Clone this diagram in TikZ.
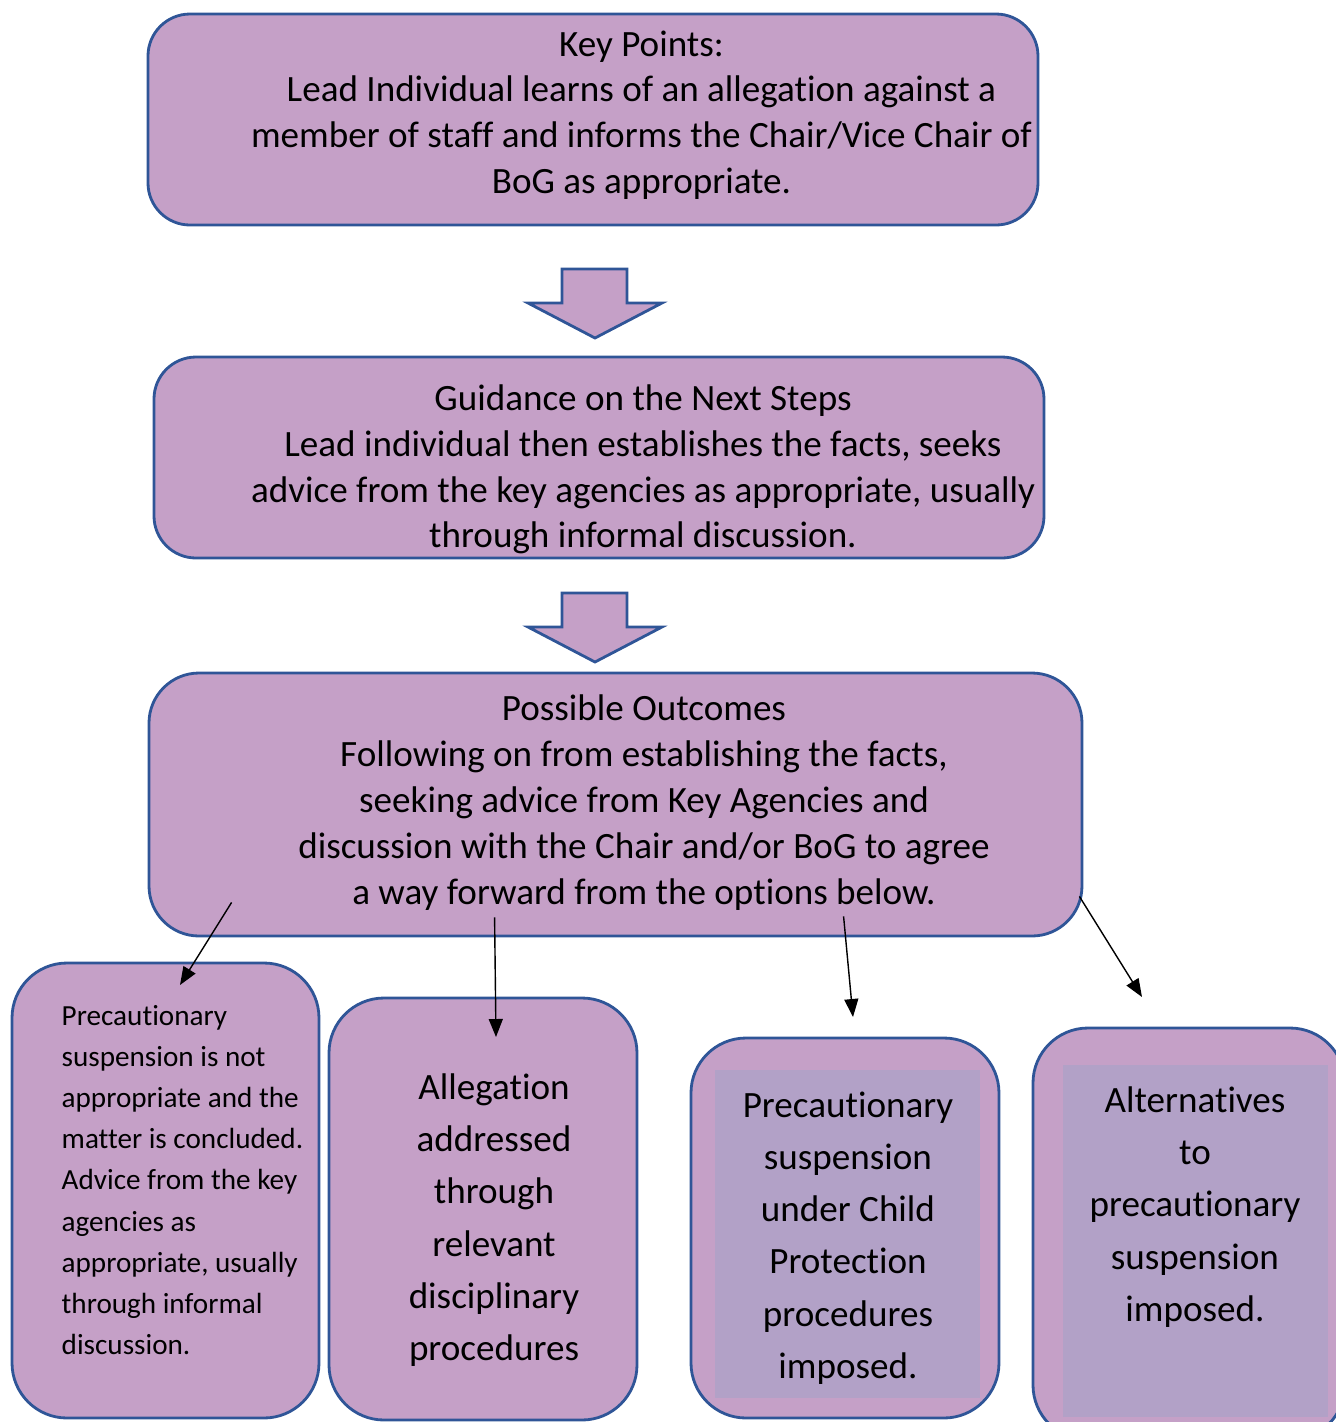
\documentclass[tikz,border=0pt]{standalone}
\usepackage{fontspec}
\setmainfont{Carlito}[Ligatures=NoCommon]
\usetikzlibrary{calc, arrows.meta}
\definecolor{boxfill}{RGB}{197,160,199}
\definecolor{boxline}{RGB}{47,85,151}
\definecolor{panelfill}{RGB}{178,161,199}
\tikzset{every node/.style={align=center}}
\tikzset{box/.style={draw=boxline, fill=boxfill, line width=0.8pt, rounded corners=0.42cm, inner sep=0pt}}
\tikzset{tallbox/.style={box, rounded corners=0.55cm}}
\tikzset{bigarrow/.style={draw=boxline, fill=boxfill, line width=0.8pt, line join=miter}}
\tikzset{link/.style={thin, black, -{Triangle[length=0.18cm, width=0.14cm]}}}
\tikzset{toptext/.style={font=\fontsize{10.56}{13.04}\selectfont, inner sep=0pt}}
\tikzset{optext/.style={font=\fontsize{10.56}{14.87}\selectfont, inner sep=0pt}}
\tikzset{smalltext/.style={font=\fontsize{8.3}{11.7}\selectfont, inner sep=0pt, align=left}}

\begin{document}
\begin{tikzpicture}
	
	% Frame
	\useasboundingbox (0,0) rectangle (13.36,-14.22);
	
	% Boxes
	\node[box, minimum width=8.90cm, minimum height=2.11cm] (keypoints) at (5.93,-1.195) {};
	\node[box, minimum width=8.90cm, minimum height=2.01cm] (guidance) at (5.99,-4.575) {};
	\node[box, rounded corners=0.5cm, minimum width=9.33cm, minimum height=2.63cm] (outcomes) at (6.155,-8.045) {};
	\node[tallbox, minimum width=3.07cm, minimum height=4.55cm] (concluded) at (1.655,-11.905) {};
	\node[tallbox, minimum width=3.08cm, minimum height=4.22cm] (allegation) at (4.83,-12.09) {};
	\node[tallbox, minimum width=3.08cm, minimum height=3.80cm] (suspension) at (8.45,-12.28) {};
	\node[tallbox, minimum width=3.12cm, minimum height=4.12cm] (alternatives) at (11.89,-12.34) {};
	
	% Panels
	\fill[panelfill] (7.15,-10.70) rectangle (9.80,-13.98);
	\fill[panelfill] (10.63,-10.65) rectangle (13.28,-14.17);
	
	% Texts
	\node[toptext] (keypointsText) at (6.415,-1.15) {Key Points:\\
		Lead Individual learns of an allegation against a\\
		member of staff and informs the Chair/Vice Chair of\\
		BoG as appropriate.};
	\node[toptext] (guidanceText) at (6.43,-4.695) {Guidance on the Next Steps\\
		Lead individual then establishes the facts, seeks\\
		advice from the key agencies as appropriate, usually\\
		through informal discussion.};
	\node[toptext] (outcomesText) at (6.44,-8.025) {Possible Outcomes\\
		Following on from establishing the facts,\\
		seeking advice from Key Agencies and\\
		discussion with the Chair and/or BoG to agree\\
		a way forward from the options below.};
	\node[smalltext, anchor=west] (concludedText) at (0.61,-11.80) {Precautionary\\
		suspension is not\\
		appropriate and the\\
		matter is concluded.\\
		Advice from the key\\
		agencies as\\
		appropriate, usually\\
		through informal\\
		discussion.};
	\node[optext] (allegationText) at (4.94,-12.20) {Allegation\\ addressed\\ through\\ relevant\\ disciplinary\\ procedures};
	\node[optext] (suspensionText) at (8.48,-12.38) {Precautionary\\ suspension\\ under Child\\ Protection\\ procedures\\ imposed.};
	\node[optext] (alternativesText) at (11.95,-12.07) {Alternatives\\ to\\ precautionary\\ suspension\\ imposed.};
	
	% Block arrows
	\coordinate (drop1) at (5.62,-2.69);
	\coordinate (drop2) at (5.62,-5.93);
	\draw[bigarrow] (drop1) -- ++(0.65,0) -- ++(0,-0.34) -- ++(0.35,0) -- ++(-0.67,-0.35) -- ++(-0.67,0.35) -- ++(0.34,0) -- cycle;
	\draw[bigarrow] (drop2) -- ++(0.65,0) -- ++(0,-0.34) -- ++(0.35,0) -- ++(-0.67,-0.35) -- ++(-0.67,0.35) -- ++(0.34,0) -- cycle;
	
	% Links
	%% Starts
	\coordinate (out1) at ($(outcomes.south west)+(0.84,0.35)$);
	\coordinate (out2) at ($(outcomes.south west)+(3.47,0.20)$);
	\coordinate (out3) at ($(outcomes.south west)+(6.96,0.21)$);
	\coordinate (out4) at ($(outcomes.south east)+(-0.04,0.41)$);
	%% Ends
	\coordinate (in1) at (1.80,-9.85);
	\coordinate (in2) at (4.96,-10.37);
	\coordinate (in3) at (8.53,-10.17);
	\coordinate (in4) at (11.42,-9.97);
	\draw[link] (out1) -- (in1);
	\draw[link] (out2) -- (in2);
	\draw[link] (out3) -- (in3);
	\draw[link] (out4) -- (in4);
	
\end{tikzpicture}
\end{document}
